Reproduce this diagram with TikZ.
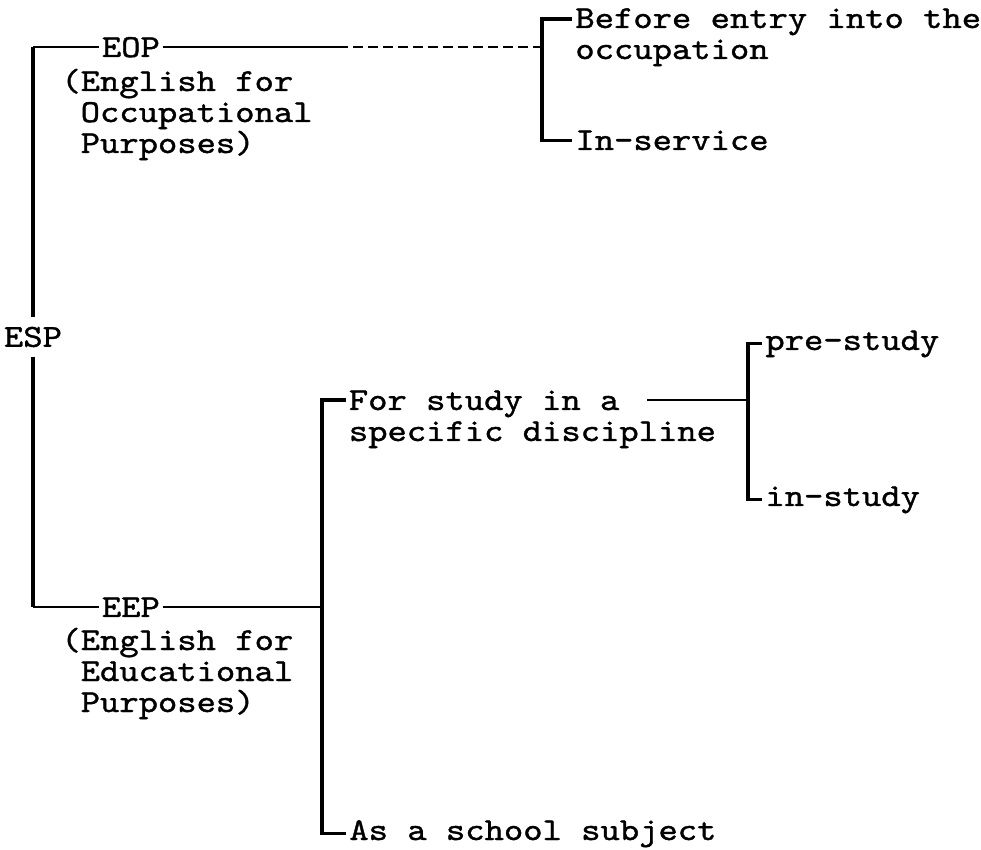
\documentclass[tikz,border=0pt]{standalone}
\usepackage{fontspec}
\newfontfamily\typewriter{lmmono10-regular.otf}[FakeStretch=1.15,FakeBold=1.2]
\newcommand\diagfont{\typewriter\fontsize{16pt}{15.5pt}\selectfont}

\begin{document}
\begin{tikzpicture}[x=0.5pt,y=-0.5pt,
    txt/.style={font=\diagfont,inner xsep=1.5pt,inner ysep=0pt,anchor=base west},
    para/.style={txt,align=left},
    stem/.style={line width=1.6pt},
    link/.style={line width=1pt}]
    \useasboundingbox (0,0) rectangle (981,850);

    \node[txt,anchor=center,inner ysep=4.6pt] (esp) at (33,337) {ESP};
    \node[txt]  (eop)    at (98.5,57) {EOP};
    \node[para] (eopsub) at (58,153)  {(English for\\\hphantom{(}Occupational\\\hphantom{(}Purposes)};
    \node[txt]  (eep)    at (98.5,617) {EEP};
    \node[para] (eepsub) at (58,712)  {(English for\\\hphantom{(}Educational\\\hphantom{(}Purposes)};

    \node[para] (before)    at (572,59)  {Before entry into the\\occupation};
    \node[txt]  (inservice) at (572,150) {In-service};

    \node[para] (forstudy) at (345.5,441) {For study in a\\specific discipline};
    \node[txt]  (school)   at (346,840)   {As a school subject};
    \node[txt]  (prestudy) at (762,350)   {pre-study};
    \node[txt]  (instudy)  at (762,506)   {in-study};

    \coordinate (occtop) at (542,19);
    \coordinate (fstop)  at (322,400);
    \coordinate (fsgap)  at (647,400);
    \coordinate (fsx)    at (748,400);

    % ESP stem
    \draw[stem] (esp) -- (esp |- eop.west);
    \draw[stem] (esp) -- (esp |- eep.west);
    \draw[link] (esp |- eop.west) -- (eop.west);
    \draw[link] (esp |- eep.west) -- (eep.west);

    % EOP branch
    \path (eop.east) ++(175,0) coordinate (fade);
    \draw[link] (eop.east) -- (fade);
    \draw[line width=0.8pt,dash pattern=on 5pt off 2.5pt] (fade) -- (fade -| occtop);
    \draw[stem] (before.west |- occtop) -- (occtop) -- (occtop |- inservice.west) -- (inservice.west);

    % EEP branch
    \draw[link] (eep.east) -- (eep.east -| fstop);
    \draw[stem] (forstudy.west |- fstop) -- (fstop) -- (fstop |- school.west) -- (school.west);
    \draw[link] (fsgap) -- (fsx);
    \draw[stem] (prestudy.west) -- (prestudy.west -| fsx) -- (instudy.west -| fsx) -- (instudy.west);
\end{tikzpicture}
\end{document}
